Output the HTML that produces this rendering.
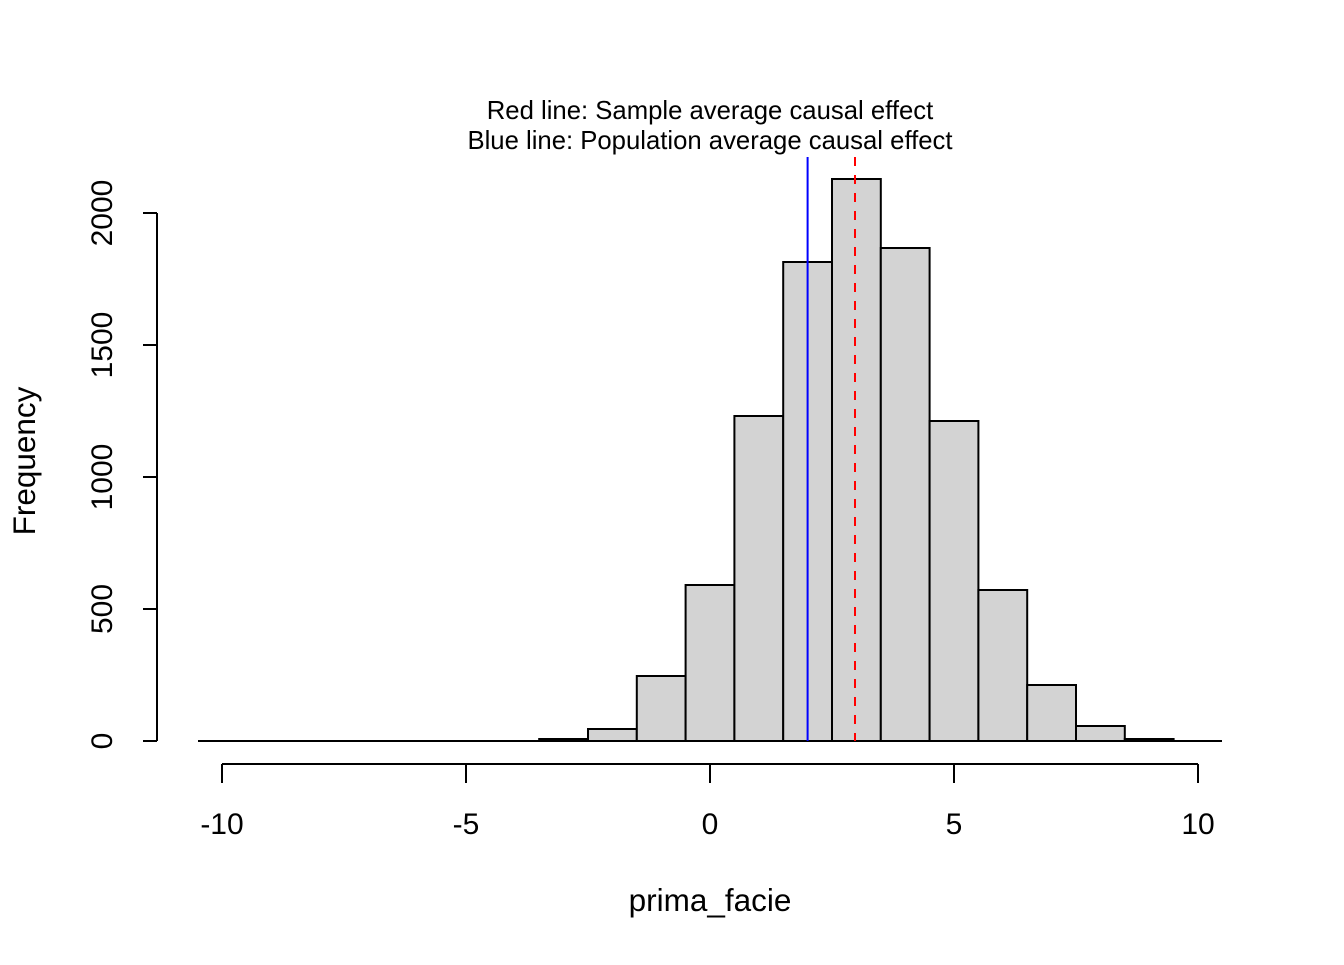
<!DOCTYPE html>
<html><head><style>html,body{margin:0;padding:0;background:#fff;}</style></head>
<body>
<svg width="1344" height="960" xmlns="http://www.w3.org/2000/svg" font-family="Liberation Sans, Arial, sans-serif">
<rect width="1344" height="960" fill="#fff"/>
<g fill="#d3d3d3" stroke="#000" stroke-width="2">
<rect x="539.2" y="739" width="48.8" height="2"/>
<rect x="588" y="729" width="48.8" height="12"/>
<rect x="636.8" y="676" width="48.8" height="65"/>
<rect x="685.6" y="585" width="48.8" height="156"/>
<rect x="734.4" y="416" width="48.8" height="325"/>
<rect x="783.2" y="262" width="48.8" height="479"/>
<rect x="832" y="179" width="48.8" height="562"/>
<rect x="880.8" y="248" width="48.8" height="493"/>
<rect x="929.6" y="421" width="48.8" height="320"/>
<rect x="978.4" y="590" width="48.8" height="151"/>
<rect x="1027.2" y="685" width="48.8" height="56"/>
<rect x="1076" y="726" width="48.8" height="15"/>
<rect x="1124.8" y="739" width="48.8" height="2"/>
</g>
<line x1="198" y1="741" x2="1222" y2="741" stroke="#000" stroke-width="2"/>
<line x1="807.6" y1="157" x2="807.6" y2="741" stroke="#0000ff" stroke-width="2"/>
<line x1="855" y1="157" x2="855" y2="741" stroke="#ff0000" stroke-width="2" stroke-dasharray="9,9"/>
<g stroke="#000" stroke-width="2">
<line x1="157" y1="213" x2="157" y2="741"/>
<line x1="143" y1="741" x2="157" y2="741"/>
<line x1="143" y1="609" x2="157" y2="609"/>
<line x1="143" y1="477" x2="157" y2="477"/>
<line x1="143" y1="345" x2="157" y2="345"/>
<line x1="143" y1="213" x2="157" y2="213"/>
<line x1="222" y1="764" x2="1198" y2="764"/>
<line x1="222" y1="764" x2="222" y2="783"/>
<line x1="466" y1="764" x2="466" y2="783"/>
<line x1="710" y1="764" x2="710" y2="783"/>
<line x1="954" y1="764" x2="954" y2="783"/>
<line x1="1198" y1="764" x2="1198" y2="783"/>
</g>
<g font-size="30" text-anchor="middle" fill="#000">
<text x="222" y="834">-10</text>
<text x="466" y="834">-5</text>
<text x="710" y="834">0</text>
<text x="954" y="834">5</text>
<text x="1198" y="834">10</text>
<text transform="translate(112,741) rotate(-90)">0</text>
<text transform="translate(112,609) rotate(-90)">500</text>
<text transform="translate(112,477) rotate(-90)">1000</text>
<text transform="translate(112,345) rotate(-90)">1500</text>
<text transform="translate(112,213) rotate(-90)">2000</text>
</g>
<g font-size="31.5" text-anchor="middle" fill="#000">
<text x="710" y="911">prima_facie</text>
<text transform="translate(35,461) rotate(-90)">Frequency</text>
</g>
<g font-size="25.7" text-anchor="middle" fill="#000">
<text x="710" y="119">Red line: Sample average causal effect</text>
<text x="710" y="149">Blue line: Population average causal effect</text>
</g>
</svg>
</body></html>
